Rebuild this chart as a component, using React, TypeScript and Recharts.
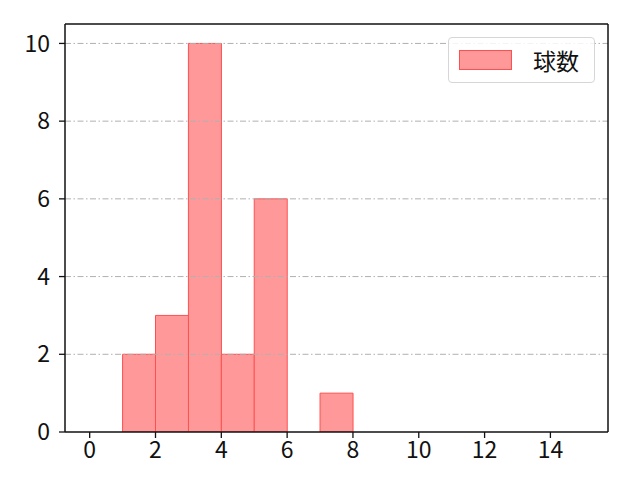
import { Bar, BarChart, ReferenceLine, XAxis, YAxis } from "recharts";

// histogram bins (left edges) and counts
const binStarts = [0, 1, 2, 3, 4, 5, 6, 7, 8, 9, 10, 11, 12, 13, 14];
const counts = [0, 2, 3, 10, 2, 6, 0, 1, 0, 0, 0, 0, 0, 0, 0];
const xTicks = [0, 2, 4, 6, 8, 10, 12, 14];
const yTicks = [0, 2, 4, 6, 8, 10];
const seriesName = "球数";

const data = binStarts.map((b, i) => ({ mid: b + 0.5, value: counts[i] }));

const X_DOMAIN = [-0.75, 15.75];
const Y_DOMAIN = [0, 10.5];
const FONT = "'Noto Sans CJK JP', 'DejaVu Sans', sans-serif";
const TICK_SIZE = 23;
const BAR_FILL = "#ff9999";
const BAR_EDGE = "#ff4f4f";
const AXIS = "#111";

function LegendBox() {
  return (
    <div
      style={{
        position: "absolute",
        left: 448,
        top: 37,
        width: 147,
        height: 46,
        border: "1px solid #d6d6d6",
        borderRadius: 4,
        background: "rgba(255,255,255,0.85)",
        display: "flex",
        alignItems: "center",
        boxSizing: "border-box",
        fontFamily: FONT,
        fontSize: 23,
        color: "#111",
      }}
    >
      <span
        style={{
          display: "inline-block",
          width: 53,
          height: 20,
          marginLeft: 10,
          background: BAR_FILL,
          border: `1px solid ${BAR_EDGE}`,
          boxSizing: "border-box",
        }}
      />
      <span style={{ marginLeft: 21 }}>{seriesName}</span>
    </div>
  );
}

const tickStyle = { fill: AXIS, fontSize: TICK_SIZE, fontFamily: FONT };

export default function App() {
  return (
    <div style={{ position: "absolute", left: 0, top: 0, width: 640, height: 480, background: "#fff" }}>
      <BarChart
        width={640}
        height={480}
        data={data}
        margin={{ top: 24, right: 32, bottom: 0, left: 0 }}
        barCategoryGap={0}
        barGap={0}
        style={{ fontFamily: FONT, fontSize: TICK_SIZE }}
      >
        <XAxis
          dataKey="mid"
          type="number"
          domain={X_DOMAIN}
          ticks={xTicks}
          allowDataOverflow
          tick={tickStyle}
          fontSize={TICK_SIZE}
          tickLine={{ stroke: AXIS, strokeWidth: 1.3 }}
          tickSize={6}
          tickMargin={4}
          height={48}
          axisLine={{ stroke: AXIS, strokeWidth: 1.5 }}
        />
        <YAxis
          type="number"
          domain={Y_DOMAIN}
          ticks={yTicks}
          allowDataOverflow
          width={65}
          tick={tickStyle}
          fontSize={TICK_SIZE}
          tickLine={{ stroke: AXIS, strokeWidth: 1.3 }}
          tickSize={6}
          tickMargin={9}
          axisLine={{ stroke: AXIS, strokeWidth: 1.5 }}
        />
        <Bar
          dataKey="value"
          name={seriesName}
          fill={BAR_FILL}
          stroke={BAR_EDGE}
          strokeWidth={1}
          isAnimationActive={false}
        />
        {yTicks.slice(1).map((t) => (
          <ReferenceLine
            key={t}
            y={t}
            stroke="#b0b0b0"
            strokeWidth={1}
            strokeDasharray="6 2.5 1.5 2.5"
          />
        ))}
        {/* top and right spines */}
        <ReferenceLine y={Y_DOMAIN[1]} stroke={AXIS} strokeWidth={1.5} />
        <ReferenceLine x={X_DOMAIN[1]} stroke={AXIS} strokeWidth={1.5} />
      </BarChart>
      <LegendBox />
    </div>
  );
}
